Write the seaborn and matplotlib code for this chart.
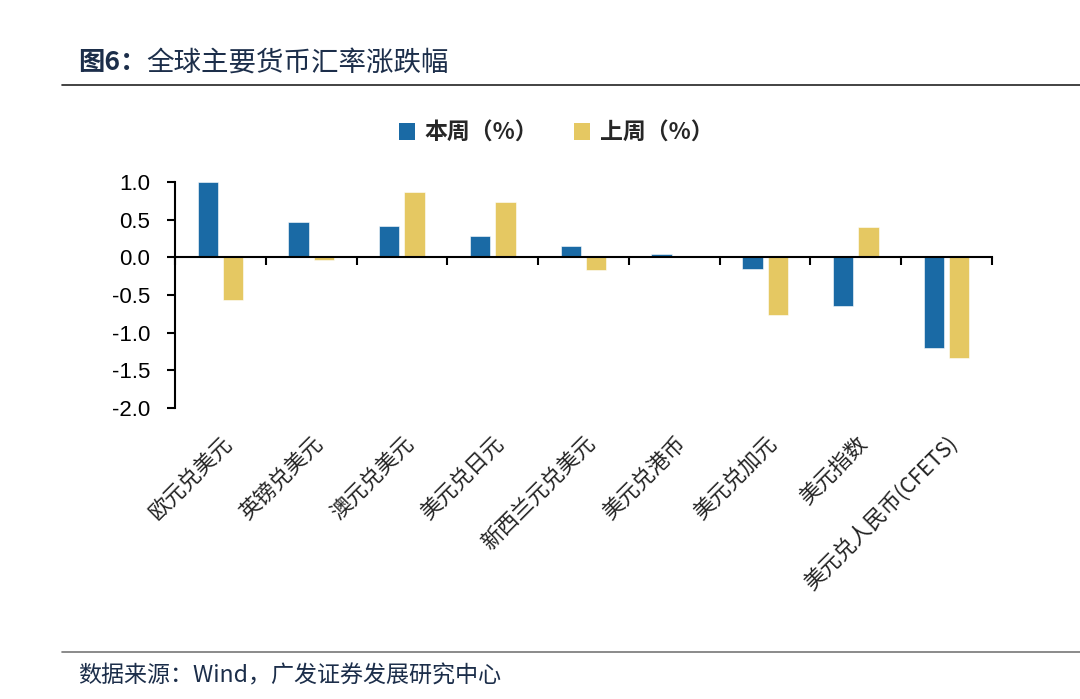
import matplotlib
matplotlib.use("Agg")
import matplotlib.pyplot as plt
import seaborn as sns
import pandas as pd
import numpy as np
from matplotlib.lines import Line2D
from matplotlib.patches import Patch

categories = ["欧元兑美元", "英镑兑美元", "澳元兑美元", "美元兑日元", "新西兰元兑美元",
              "美元兑港币", "美元兑加元", "美元指数", "美元兑人民币(CFETS)"]
this_week = [1.00, 0.47, 0.41, 0.28, 0.15, 0.05, -0.15, -0.65, -1.20]
last_week = [-0.57, -0.04, 0.87, 0.73, -0.165, 0.0, -0.77, 0.40, -1.34]
series_names = ["本周（%）", "上周（%）"]
colors = ["#1A6AA5", "#E5C862"]
yticks = [1.0, 0.5, 0.0, -0.5, -1.0, -1.5, -2.0]

df = pd.DataFrame({
    "cat": categories * 2,
    "val": this_week + last_week,
    "series": [series_names[0]] * len(categories) + [series_names[1]] * len(categories),
})

sns.set_theme(style="white")
plt.rcParams['font.family'] = ['Noto Sans CJK SC', 'DejaVu Sans']

W, H = 1080, 699
fig = plt.figure(figsize=(W / 100, H / 100), dpi=100)
ax = fig.add_axes([175 / W, 1 - 408 / H, (992 - 175) / W, (408 - 182) / H])

sns.barplot(data=df, x="cat", y="val", hue="series", palette=colors,
            width=0.56, gap=0.2, ax=ax, legend=False, saturation=1,
            edgecolor="white", linewidth=0.4)

ax.set_ylim(-2.0, 1.0)
ax.set_xlim(-0.5, len(categories) - 0.5)
ax.set_yticks(yticks)
ax.set_yticklabels([f"{v:.1f}" for v in yticks], family=['Liberation Sans', 'DejaVu Sans'],
                   fontsize=16, color='black')
ax.tick_params(axis='y', direction='out', length=6, width=1.5, color='black', pad=12, left=True)
ax.set_xlabel("")
ax.set_ylabel("")

for s in ["top", "right"]:
    ax.spines[s].set_visible(False)
ax.spines["left"].set_color("black")
ax.spines["left"].set_linewidth(1.5)
ax.spines["bottom"].set_position(("data", 0))
ax.spines["bottom"].set_color("black")
ax.spines["bottom"].set_linewidth(1.5)

n = len(categories)
ax.set_xticks(np.arange(n))
ax.set_xticklabels(categories, rotation=45, ha='right', rotation_mode='anchor',
                   fontsize=15.5, color='#222222')
ax.set_xticks(np.arange(n + 1) - 0.5, minor=True)
ax.tick_params(axis='x', which='major', length=0, pad=126)
ax.tick_params(axis='x', which='minor', direction='out', length=6, width=1.5,
               color='black', bottom=True)

# legend
handles = [Patch(facecolor=colors[0], edgecolor='none'), Patch(facecolor=colors[1], edgecolor='none')]
fig.legend(handles, series_names, loc='center', bbox_to_anchor=(556 / W, 1 - 133 / H),
           ncol=2, frameon=False, handlelength=0.7, handleheight=0.7, handletextpad=0.4,
           columnspacing=1.6, prop={'family': ['Noto Sans CJK SC', 'DejaVu Sans'],
                                    'weight': 'bold', 'size': 16.5})

# title & lines
title_color = "#1C2E4A"
fig.text(78 / W, 1 - 63 / H, "图6：", fontsize=19, fontweight='bold', color=title_color,
         va='center', ha='left')
fig.text(146 / W, 1 - 63 / H, "全球主要货币汇率涨跌幅", fontsize=19.8, color=title_color,
         va='center', ha='left')
fig.add_artist(Line2D([62 / W, 1.0], [1 - 85 / H, 1 - 85 / H], color='#222222', linewidth=1.2,
                      transform=fig.transFigure))
fig.add_artist(Line2D([62 / W, 1.0], [1 - 652 / H, 1 - 652 / H], color='#777777', linewidth=1.2,
                      transform=fig.transFigure))
fig.text(78 / W, 1 - 676 / H, "数据来源：Wind，广发证券发展研究中心", fontsize=16.6,
         color=title_color, va='center', ha='left')

fig.savefig("out.png", dpi=100, facecolor='white')
